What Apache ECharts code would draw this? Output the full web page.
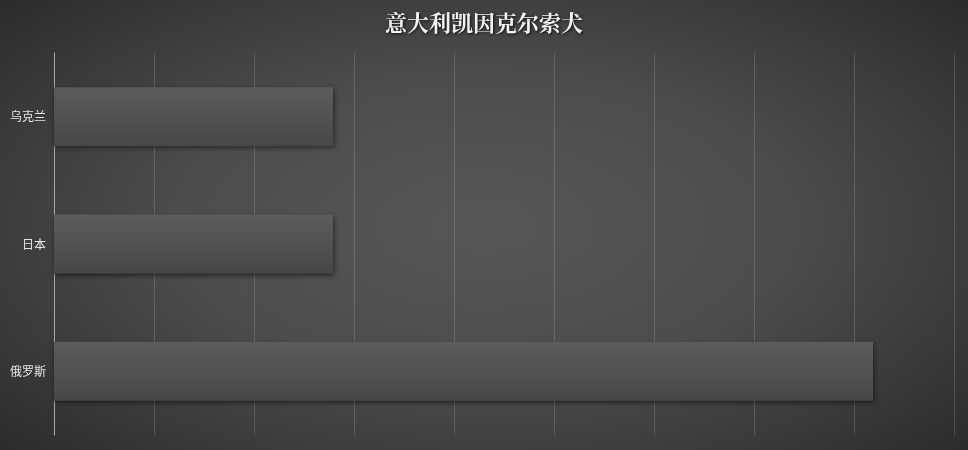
<!DOCTYPE html>
<html><head><meta charset="utf-8">
<script src="https://cdn.jsdelivr.net/npm/echarts@6/dist/echarts.min.js"></script>
<style>html,body{margin:0;padding:0;background:#2b2b2b}#c{width:968px;height:450px;background:radial-gradient(ellipse 70% 75% at 50% 50%, #575757 0%, #4c4c4c 45%, #3a3a3a 75%, #2a2a2a 100%)}</style>
</head><body><div id="c"></div>
<script>
var titleText = '意大利凯因克尔索犬';
var categories = ['俄罗斯', '日本', '乌克兰'];
var values = [8.19, 2.79, 2.79];
var axisMax = 9;
var axisInterval = 1;

var chart = echarts.init(document.getElementById('c'));
chart.setOption({
  backgroundColor: 'transparent',
  title: {
    text: titleText, left: 'center', top: 7,
    textStyle: {color: '#f2f2f2', fontSize: 22, fontWeight: 'bold', fontFamily: 'Noto Serif CJK SC, Noto Sans CJK SC, serif',
      textShadowColor: 'rgba(0,0,0,0.8)', textShadowBlur: 3, textShadowOffsetX: 1, textShadowOffsetY: 1}
  },
  grid: {left: 54, right: 14, top: 53, bottom: 15, containLabel: false},
  xAxis: {
    type: 'value', min: 0, max: axisMax, interval: axisInterval,
    axisLabel: {show: false}, axisLine: {show: false}, axisTick: {show: false},
    splitLine: {show: true, lineStyle: {color: 'rgba(210,210,210,0.2)', width: 1}}
  },
  yAxis: {
    type: 'category', data: categories,
    axisLine: {show: true, lineStyle: {color: '#a8a8a8', width: 1}},
    axisTick: {show: false},
    axisLabel: {color: '#e6e6e6', fontSize: 12, margin: 8, fontFamily: 'Noto Sans CJK SC, sans-serif'}
  },
  series: [{
    type: 'bar', data: values, barWidth: 59,
    itemStyle: {
      color: {type: 'linear', x: 0, y: 0, x2: 0, y2: 1,
        colorStops: [{offset: 0, color: '#5c5c5c'}, {offset: 1, color: '#474747'}]},
      shadowColor: 'rgba(0,0,0,0.55)', shadowBlur: 5, shadowOffsetX: 1, shadowOffsetY: 2
    },
    animation: false
  }],
  animation: false
});
</script></body></html>
